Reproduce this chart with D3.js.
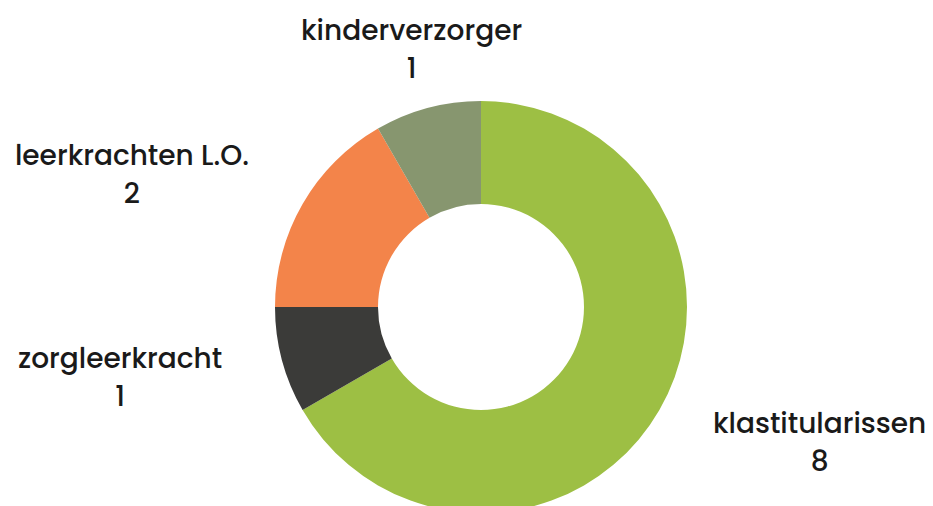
<!DOCTYPE html>
<html>
<head>
<meta charset="utf-8">
<script src="https://cdnjs.cloudflare.com/ajax/libs/d3/7.8.5/d3.min.js"></script>
<style>
  html, body { margin: 0; padding: 0; background: #fff; overflow: hidden; }
  svg { display: block; }
</style>
</head>
<body>
<svg id="chart" width="933" height="506"></svg>
<script>
// data, clockwise from 12 o'clock
const categories = ["klastitularissen", "zorgleerkracht", "leerkrachten L.O.", "kinderverzorger"];
const values = [8, 1, 2, 1];
const colors = ["#9dbf44", "#3b3b39", "#f3844a", "#87966f"];

const width = 933, height = 506;
const cx = 481, cy = 307;
const outerR = 206, innerR = 103;
const labelR = 268;

const svg = d3.select("#chart");
const g = svg.append("g").attr("transform", "translate(" + cx + "," + cy + ")");

const data = categories.map((c, i) => ({ name: c, value: values[i] }));

const pie = d3.pie().sort(null).value(d => d.value);
const arc = d3.arc().innerRadius(innerR).outerRadius(outerR);
const arcs = pie(data);

g.selectAll("path.slice")
  .data(arcs)
  .enter()
  .append("path")
  .attr("class", "slice")
  .attr("d", arc)
  .attr("fill", (d, i) => colors[i]);

// labels: two lines, placed on the mid angle just outside the ring
const fontFam = "Poppins, 'Open Sans', sans-serif";
const fontSize = "28px";
const labels = g.selectAll("g.label")
  .data(arcs)
  .enter()
  .append("g")
  .attr("class", "label")
  .attr("transform", d => {
    const a = (d.startAngle + d.endAngle) / 2;
    return "translate(" + (Math.sin(a) * labelR) + "," + (-Math.cos(a) * labelR) + ")";
  });

labels.each(function(d) {
  const a = (d.startAngle + d.endAngle) / 2;
  const s = Math.sin(a);
  // sides get aligned to the point, the top one is centred on it
  let anchor = "middle";
  if (s > 0.5) anchor = "start";
  else if (s < -0.5) anchor = "end";
  const sel = d3.select(this);
  const t = sel.append("text")
    .attr("text-anchor", anchor)
    .style("font-family", fontFam)
    .style("font-size", fontSize)
    .style("font-weight", 500)
    .attr("fill", "#1a1a1a")
    .attr("y", -8)
    .text(d.data.name);
  // number is centred under the name
  const bb = t.node().getBBox();
  sel.append("text")
    .attr("text-anchor", "middle")
    .attr("x", bb.x + bb.width / 2)
    .attr("y", 30)
    .style("font-family", fontFam)
    .style("font-size", fontSize)
    .style("font-weight", 500)
    .attr("fill", "#1a1a1a")
    .text(d.value);
});
</script>
</body>
</html>
